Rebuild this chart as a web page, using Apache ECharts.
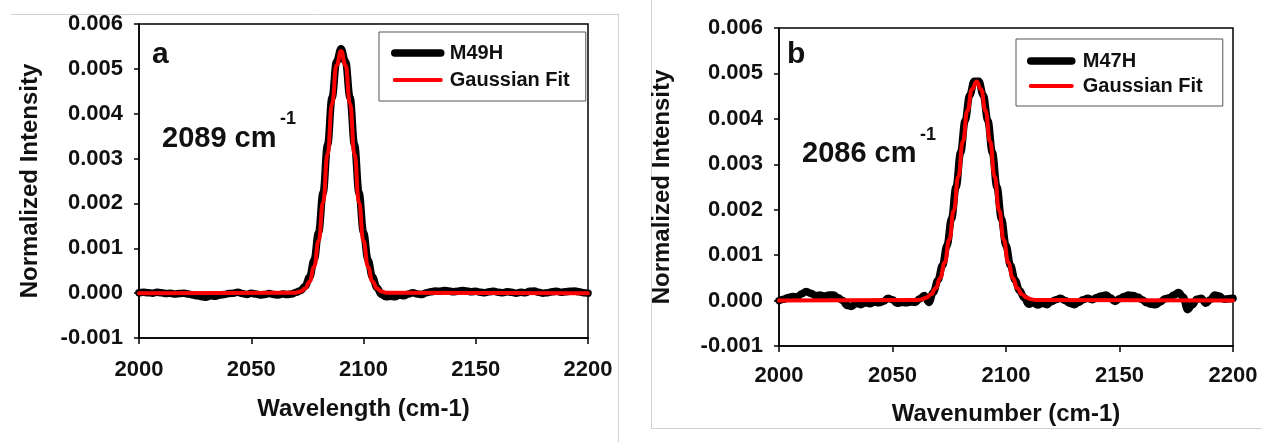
<!DOCTYPE html>
<html><head><meta charset="utf-8">
<script src="https://cdn.jsdelivr.net/npm/echarts@6/dist/echarts.min.js"></script>
<style>html,body{margin:0;padding:0;background:#fff}#c{width:1262px;height:442px}</style>
</head><body><div id="c"></div>
<script>
// ---- data ----
const wavenumbers = [2000,2002,2004,2006,2008,2010,2012,2014,2016,2018,2020,2022,2024,2026,2028,2030,2032,2034,2036,2038,2040,2042,2044,2046,2048,2050,2052,2054,2056,2058,2060,2062,2064,2066,2068,2070,2072,2074,2076,2078,2080,2082,2084,2086,2088,2090,2092,2094,2096,2098,2100,2102,2104,2106,2108,2110,2112,2114,2116,2118,2120,2122,2124,2126,2128,2130,2132,2134,2136,2138,2140,2142,2144,2146,2148,2150,2152,2154,2156,2158,2160,2162,2164,2166,2168,2170,2172,2174,2176,2178,2180,2182,2184,2186,2188,2190,2192,2194,2196,2198,2200];

const m49h = [0.00001,0.00002,0.00001,0.00000,0.00002,0.00001,-0.00001,0.00000,-0.00002,-0.00001,
0.00000,-0.00002,-0.00004,-0.00006,-0.00008,-0.00009,-0.00006,-0.00007,-0.00004,-0.00003,
-0.00001,0.00000,0.00002,-0.00001,-0.00003,0.00000,-0.00002,-0.00004,-0.00003,-0.00001,
-0.00003,-0.00004,-0.00002,-0.00003,-0.00002,0.00002,0.00006,0.000155,0.00036,0.00074,
0.00136,0.00224,0.00331,0.00436,0.00516,0.00545,0.00516,0.00436,0.00331,0.00224,
0.00136,0.00074,0.00036,0.00012,-0.00003,-0.00008,-0.00007,-0.00008,-0.00004,-0.00006,
-0.00002,0.00001,-0.00002,-0.00003,0.00001,0.00003,0.00005,0.00004,0.00006,0.00005,
0.00003,0.00004,0.00006,0.00005,0.00003,0.00004,0.00002,0.00001,0.00003,0.00004,
0.00002,0.00001,0.00003,0.00002,0.00000,0.00002,0.00001,0.00004,0.00005,0.00002,
0.00000,0.00001,0.00003,0.00004,0.00002,0.00003,0.00004,0.00005,0.00003,0.00001,0.00000];

const m47h = [0.00000,0.00003,0.00007,0.00009,0.00008,0.00015,0.00020,0.00016,0.00011,0.00012,
0.00010,0.00012,0.00012,0.00006,0.00000,-0.00011,-0.00013,-0.00006,-0.00009,-0.00005,
-0.00007,-0.00003,-0.00005,-0.00002,0.00005,0.00002,-0.00006,-0.00004,-0.00005,-0.00003,
-0.00004,0.00004,0.00011,-0.00004,0.00018,0.00045,0.00077,0.00121,0.00180,0.00250,
0.00326,0.00396,0.00452,0.00483,0.00483,0.00452,0.00396,0.00326,0.00250,0.00180,
0.00121,0.00077,0.00045,0.00022,0.00006,-0.00008,-0.00004,-0.00010,-0.00006,-0.00009,
-0.00002,0.00002,0.00005,0.00000,-0.00006,-0.00009,-0.00004,0.00002,0.00005,0.00002,
0.00007,0.00010,0.00012,0.00006,-0.00002,0.00004,0.00009,0.00012,0.00011,0.00008,
0.00002,-0.00005,-0.00008,-0.00009,-0.00003,0.00004,0.00006,0.00012,0.00018,0.00008,
-0.00020,-0.00010,0.00003,0.00005,-0.00006,0.00002,0.00012,0.00010,0.00003,0.00004,0.00005];

const fitAX = [2000,2070,2072,2074,2076,2078,2080,2082,2084,2086,2088,2090,2092,2094,2096,2098,2100,2102,2104,2106,2108,2110,2200];
const fitAY = [0,0.000011,0.000037,0.000105,0.00026,0.00059,0.00116,0.00202,0.00310,0.00422,0.00508,0.00540,0.00508,0.00422,0.00310,0.00202,0.00116,0.00059,0.00026,0.000105,0.000037,0.000011,0];

const fitBX = [2000,2061,2063,2065,2067,2069,2071,2073,2075,2077,2079,2081,2083,2085,2087,2089,2091,2093,2095,2097,2099,2101,2103,2105,2107,2109,2111,2113,2200];
const fitBY = [0,0.000012,0.000029,0.000065,0.000138,0.00027,0.000495,0.00084,0.00134,0.00198,0.00273,0.00350,0.00418,0.00465,0.00482,0.00465,0.00418,0.00350,0.00273,0.00198,0.00134,0.00084,0.000495,0.00027,0.000138,0.000065,0.000029,0.000012,0];

const seriesNames = ['M49H', 'M47H', 'Gaussian Fit'];
const xTitles = ['Wavelength (cm-1)', 'Wavenumber (cm-1)'];
const yTitle = 'Normalized Intensity';
const panelLetters = ['a', 'b'];
const peakLabels = ['2089 cm', '2086 cm'];
const superscript = '-1';

// ---- chart ----
const FONT = '"Liberation Sans", Arial, sans-serif';
const pair = (xs, ys) => xs.map((x, i) => [x, ys[i]]);

const grids = [
  {left: 139, top: 24, width: 449, height: 314},
  {left: 779, top: 28, width: 454, height: 318}
];

function xAxis(i, nameGap, labelMargin) {
  return {
    type: 'value', gridIndex: i, min: 2000, max: 2200, interval: 50,
    name: xTitles[i], nameLocation: 'middle', nameGap: nameGap,
    nameTextStyle: {fontFamily: FONT, fontWeight: 'bold', fontSize: 24, color: '#111'},
    axisLine: {onZero: false, lineStyle: {color: '#000', width: 1.5}},
    axisTick: {inside: false, length: 6, lineStyle: {color: '#000', width: 1.5}},
    axisLabel: {margin: labelMargin, fontFamily: FONT, fontWeight: 'bold', fontSize: 22, color: '#111',
      formatter: v => String(v)},
    splitLine: {show: false}
  };
}
function yAxis(i, nameGap) {
  return {
    type: 'value', gridIndex: i, min: -0.001, max: 0.006, interval: 0.001,
    name: yTitle, nameLocation: 'middle', nameGap: nameGap, nameRotate: 90,
    nameTextStyle: {fontFamily: FONT, fontWeight: 'bold', fontSize: 24, color: '#111'},
    axisLine: {onZero: false, lineStyle: {color: '#000', width: 1.5}},
    axisTick: {inside: false, length: 5, lineStyle: {color: '#000', width: 1.5}},
    axisLabel: {margin: 16, fontFamily: FONT, fontWeight: 'bold', fontSize: 22, color: '#111',
      formatter: v => v.toFixed(3)},
    splitLine: {show: false}
  };
}

function dataSeries(name, i, ys) {
  return {
    name: name, type: 'line', xAxisIndex: i, yAxisIndex: i,
    data: pair(wavenumbers, ys), symbol: 'none', smooth: 0.4, smoothMonotone: 'x',
    lineStyle: {color: '#000', width: 7.5, cap: 'round', join: 'round'},
    itemStyle: {color: '#000'}, z: 2, animation: false
  };
}
function fitSeries(i, xs, ys) {
  return {
    name: seriesNames[2], type: 'line', xAxisIndex: i, yAxisIndex: i,
    data: pair(xs, ys), symbol: 'none', smooth: 0.5, smoothMonotone: 'x',
    lineStyle: {color: '#ff0000', width: 4, cap: 'round', join: 'round'},
    itemStyle: {color: '#ff0000'}, z: 3, animation: false
  };
}

function legend(i, left, top, itemWidth, itemGap, padding, textPad) {
  return {
    show: true, orient: 'vertical', left: left, top: top,
    data: [seriesNames[i], seriesNames[2]],
    itemWidth: itemWidth, itemHeight: 14, itemGap: itemGap, padding: padding,
    borderColor: '#555', borderWidth: 1, backgroundColor: '#fff',
    selectedMode: false,
    itemStyle: {opacity: 0},
    lineStyle: {width: 'inherit', cap: 'round'},
    textStyle: {fontFamily: FONT, fontWeight: 'bold', fontSize: 20, color: '#111', padding: [0, 0, 0, textPad]}
  };
}

const txt = (x, y, text, size) => ({
  type: 'text', left: x, top: y, z: 10,
  style: {text: text, fontFamily: FONT, fontWeight: 'bold', fontSize: size, fill: '#111'}
});
const ln = (x1, y1, x2, y2) => ({
  type: 'line', z: 0, shape: {x1, y1, x2, y2}, style: {stroke: '#d0d0d0', lineWidth: 1}
});

const chart = echarts.init(document.getElementById('c'), null, {renderer: 'canvas'});
chart.setOption({
  backgroundColor: '#fff',
  animation: false,
  grid: grids.map(g => Object.assign({show: true, borderColor: '#000', borderWidth: 1.5, backgroundColor: 'transparent'}, g)),
  xAxis: [xAxis(0, 59, 21), xAxis(1, 56, 19)],
  yAxis: [yAxis(0, 97), yAxis(1, 105)],
  legend: [
    legend(0, 379, 32, 46, 7, [11, 16, 11, 12], 4),
    legend(1, 1016, 39, 41, 5, [12, 20, 10, 11], 6)
  ],
  series: [
    dataSeries(seriesNames[0], 0, m49h),
    fitSeries(0, fitAX, fitAY),
    dataSeries(seriesNames[1], 1, m47h),
    fitSeries(1, fitBX, fitBY)
  ],
  graphic: [
    ln(11, 14.5, 618, 14.5), ln(618.5, 14, 618.5, 442),
    ln(651.5, 0, 651.5, 428), ln(651, 428.5, 1262, 428.5),
    txt(152, 40, panelLetters[0], 30),
    txt(787, 40, panelLetters[1], 30),
    txt(162, 124, peakLabels[0], 29),
    txt(280, 110, superscript, 18),
    txt(802, 139, peakLabels[1], 29),
    txt(920, 126, superscript, 18)
  ]
});
</script>
</body></html>
